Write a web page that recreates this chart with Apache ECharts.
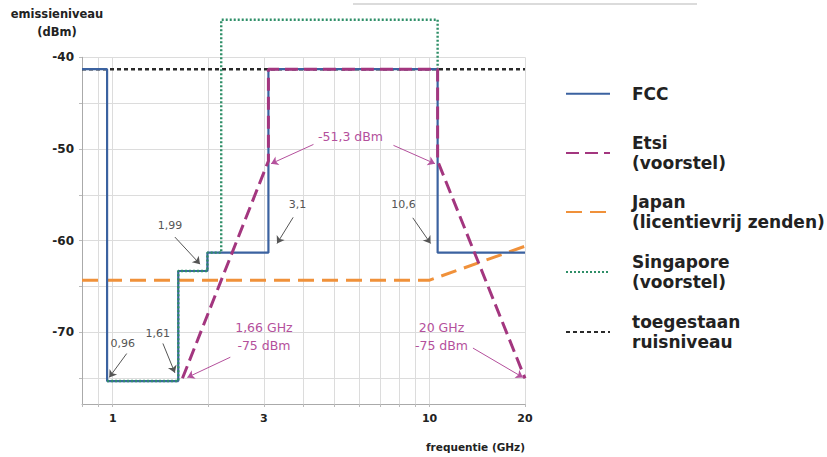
<!DOCTYPE html>
<html>
<head>
<meta charset="utf-8">
<script src="https://cdn.jsdelivr.net/npm/echarts@6/dist/echarts.min.js"></script>
<style>html,body{margin:0;padding:0;background:#fff}#c{width:827px;height:457px}</style>
</head>
<body>
<div id="c"></div>
<script>
// ---- axis ticks ----
const xTickLabels = [1, 3, 10, 20];
const xGridValues = [0.8, 0.9, 1, 2, 3, 4, 5, 6, 7, 8, 9, 10, 20];
const yTickLabels = [-70, -60, -50, -40];
const yGridValues = [-75, -70, -65, -60, -55, -50, -45, -40];

// ---- series values: [frequency GHz, level dBm] ----
const fcc = [[0.8,-41.3],[0.96,-41.3],[0.96,-75.3],[1.61,-75.3],[1.61,-63.3],[1.99,-63.3],[1.99,-61.3],[3.1,-61.3],[3.1,-41.3],[10.6,-41.3],[10.6,-61.3],[20,-61.3]];
const etsi = [[1.66,-75],[3.1,-51.3],[3.1,-41.3],[10.6,-41.3],[10.6,-51.3],[20,-75]];
const japan = [[0.8,-64.3],[10,-64.3],[20,-60.6]];
const singapore = [[0.96,-75.3],[1.61,-75.3],[1.61,-63.3],[1.99,-63.3],[1.99,-61.3],[2.2,-61.3],[2.2,-35.9],[10.6,-35.9],[10.6,-41.3]];
const noise = [[0.8,-41.3],[20,-41.3]];

// ---- annotations (text anchor, arrow from -> to, in data coordinates) ----
const annotationTexts = [
  {text:'0,96', at:[1.076,-71.2], kind:'k'},
  {text:'1,61', at:[1.388,-70.1], kind:'k'},
  {text:'1,99', at:[1.515,-58.3], kind:'k'},
  {text:'3,1', at:[3.83,-56.1], kind:'k'},
  {text:'10,6', at:[8.27,-56.1], kind:'k'},
  {text:'-51,3 dBm', at:[5.63,-48.6], kind:'p'},
  {text:'1,66 GHz\n-75 dBm', at:[3.0,-70.4], kind:'p'},
  {text:'20 GHz\n-75 dBm', at:[10.9,-70.4], kind:'p'}
];
const annotationArrows = [
  {from:[1.107,-72.3], to:[0.975,-74.9], kind:'k'},
  {from:[1.44,-71.2], to:[1.571,-74.4], kind:'k'},
  {from:[1.571,-59.6], to:[1.886,-62.55], kind:'k'},
  {from:[3.71,-57.45], to:[3.30,-60.3], kind:'k'},
  {from:[8.85,-57.5], to:[10.07,-60.3], kind:'k'},
  {from:[4.30,-49.5], to:[3.16,-51.6], kind:'p'},
  {from:[7.69,-49.6], to:[10.4,-51.6], kind:'p'},
  {from:[2.35,-72.7], to:[1.72,-74.9], kind:'p'},
  {from:[13.7,-71.7], to:[19.7,-74.9], kind:'p'}
];

const FONT = 'DejaVu Sans';
const C = {fcc:'#3b62a0', etsi:'#a3367f', japan:'#f0913a', sing:'#2f8f68', noise:'#2a2a2a', annK:'#555555', annP:'#b4509c'};

const names = ['FCC','Etsi\n(voorstel)','Japan\n(licentievrij zenden)','Singapore\n(voorstel)','toegestaan\nruisniveau'];
const legendTops = [79, 128.5, 187.5, 247.5, 307.5];

const legends = names.map((n,i)=>({
  data:[n], orient:'vertical', left:560, top:legendTops[i],
  itemWidth:44, itemHeight:14, selectedMode:false,
  lineStyle:{width:2},
  itemStyle:{opacity:0, borderWidth:0},
  textStyle:{fontFamily:FONT, fontWeight:'bold', fontSize:17, lineHeight:19.5, color:'#222', padding:[0,0,0,17]}
}));

const chart = echarts.init(document.getElementById('c'), null, {renderer:'svg'});
chart.setOption({
  animation:false,
  backgroundColor:'#fff',
  legend: legends,
  grid:{left:82, right:302, top:57.3, bottom:53},
  xAxis:{
    type:'log', logBase:10, min:0.8, max:20,
    name:'frequentie (GHz)', nameLocation:'end', nameGap:0,
    nameTextStyle:{align:'right', verticalAlign:'top', padding:[37,0,0,0], fontFamily:FONT, fontWeight:'bold', fontSize:10.5, color:'#222'},
    axisLine:{show:true, lineStyle:{color:'#aaa', width:1}},
    axisTick:{show:true, customValues:xGridValues, length:3, lineStyle:{color:'#bbb'}},
    axisLabel:{customValues:xTickLabels, formatter:v=>String(v), margin:9, fontFamily:FONT, fontWeight:'bold', fontSize:11, color:'#222'},
    splitLine:{show:true, lineStyle:{color:'#dcdcdc', width:1}},
    minorTick:{show:false}, minorSplitLine:{show:false}
  },
  yAxis:{
    type:'value', min:-77.8, max:-40,
    name:'emissieniveau\n(dBm)', nameLocation:'end', nameGap:16,
    nameTextStyle:{align:'center', verticalAlign:'bottom', padding:[0,50,0,0], fontFamily:FONT, fontWeight:'bold', fontSize:11.5, lineHeight:18, color:'#222'},
    axisLine:{show:true, lineStyle:{color:'#aaa', width:1}},
    axisTick:{show:true, customValues:yGridValues, length:3, lineStyle:{color:'#bbb'}},
    axisLabel:{customValues:yTickLabels, formatter:v=>String(v), margin:8, fontFamily:FONT, fontWeight:'bold', fontSize:12, color:'#222'},
    splitLine:{show:true, lineStyle:{color:'#dcdcdc', width:1}}
  },
  graphic:[{type:'line', shape:{x1:353,y1:4,x2:697,y2:4}, style:{stroke:'#cfcfcf', lineWidth:1.5}, silent:true}],
  series:[
    {name:names[4], type:'line', data:noise, symbol:'none', lineStyle:{color:C.noise, width:2.5, type:[4,3]}, itemStyle:{color:C.noise}},
    {name:names[2], type:'line', data:japan, symbol:'none', lineStyle:{color:C.japan, width:3, type:[16,8]}, itemStyle:{color:C.japan}},
    {name:names[0], type:'line', data:fcc, symbol:'none', lineStyle:{color:C.fcc, width:2.2}, itemStyle:{color:C.fcc}},
    {name:names[3], type:'line', data:singapore, symbol:'none', clip:false, lineStyle:{color:C.sing, width:2.4, type:[2,2]}, itemStyle:{color:C.sing}},
    {name:names[1], type:'line', data:etsi, symbol:'none', lineStyle:{color:C.etsi, width:3, type:[13,6]}, itemStyle:{color:C.etsi}},
    {
      name:'annotations', type:'line', data:[], symbol:'none', silent:true,
      markLine:{
        silent:true, symbol:['none','arrow'], symbolSize:7, animation:false,
        label:{show:false},
        data: annotationArrows.map(a=>[
          {coord:a.from, lineStyle:{color:a.kind==='k'?C.annK:C.annP, width:1, type:'solid'}, itemStyle:{color:a.kind==='k'?'#333':C.annP}},
          {coord:a.to}
        ])
      },
      markPoint:{
        silent:true, symbol:'circle', symbolSize:1, animation:false,
        itemStyle:{color:'rgba(0,0,0,0)'},
        data: annotationTexts.map(t=>({
          coord:t.at, value:t.text,
          label:{show:true, position:'inside', formatter:t.text,
            fontFamily:FONT, fontSize:t.kind==='k'?11:12.5, lineHeight:t.kind==='k'?13:18,
            color:t.kind==='k'?'#555':C.annP, align:'center', verticalAlign:'middle'}
        }))
      }
    }
  ]
});
</script>
</body>
</html>
